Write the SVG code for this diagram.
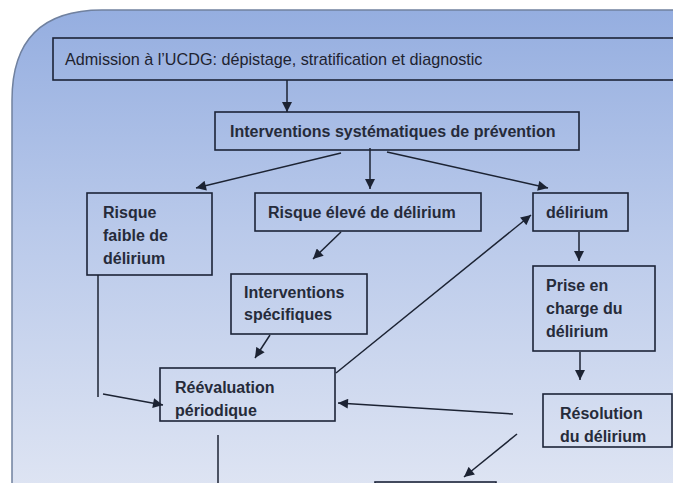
<svg xmlns="http://www.w3.org/2000/svg" width="673" height="483" viewBox="0 0 673 483">
<defs>
<linearGradient id="bg" x1="0" y1="0" x2="0" y2="1">
<stop offset="0" stop-color="#95aee0"/>
<stop offset="0.45" stop-color="#b9c9ea"/>
<stop offset="1" stop-color="#dfe5f3"/>
</linearGradient>
<marker id="ah" viewBox="0 0 10 10" refX="10" refY="5" markerWidth="11" markerHeight="10" markerUnits="userSpaceOnUse" orient="auto">
<path d="M0,0 L10,5 L0,10 z" fill="#1c2333"/>
</marker>
<style>
.box{fill:none;stroke:#1c2438;stroke-width:1.6}
.t{font-family:"Liberation Sans",Arial,sans-serif;font-size:16px;font-weight:bold;fill:#262b3a}
.ti{font-family:"Liberation Sans",Arial,sans-serif;font-size:16.2px;fill:#1e2330}
.c{fill:none;stroke:#1c2333;stroke-width:1.5}
.ca{fill:none;stroke:#1c2333;stroke-width:1.5;marker-end:url(#ah)}
</style>
</defs>
<rect width="673" height="483" fill="#ffffff"/>
<path d="M12,495 L12,100 Q12,10 102,10 L690,10 L690,495 z" fill="url(#bg)" stroke="#70819f" stroke-width="1.5"/>

<g id="admission">
<rect class="box" x="53" y="38" width="630" height="42"/>
<text class="ti" x="65" y="65">Admission à l’UCDG: dépistage, stratification et diagnostic</text>
</g>
<g id="prevention">
<rect class="box" x="215" y="112" width="364" height="38"/>
<text class="t" x="230" y="137">Interventions systématiques de prévention</text>
</g>
<g id="risque-faible">
<rect class="box" x="87" y="193" width="125" height="82"/>
<text class="t" x="103" y="218">Risque</text>
<text class="t" x="103" y="241">faible de</text>
<text class="t" x="103" y="264">délirium</text>
</g>
<g id="risque-eleve">
<rect class="box" x="255" y="193" width="226" height="38"/>
<text class="t" x="268" y="218">Risque élevé de délirium</text>
</g>
<g id="delirium">
<rect class="box" x="533" y="193" width="95" height="38"/>
<text class="t" x="546" y="218">délirium</text>
</g>
<g id="interventions-specifiques">
<rect class="box" x="231" y="274" width="136" height="60"/>
<text class="t" x="244" y="298">Interventions</text>
<text class="t" x="244" y="320">spécifiques</text>
</g>
<g id="prise-en-charge">
<rect class="box" x="533" y="266" width="122" height="85"/>
<text class="t" x="546" y="291">Prise en</text>
<text class="t" x="546" y="314">charge du</text>
<text class="t" x="546" y="337">délirium</text>
</g>
<g id="reevaluation">
<rect class="box" x="160" y="368" width="175" height="53"/>
<text class="t" x="175" y="393">Réévaluation</text>
<text class="t" x="175" y="416">périodique</text>
</g>
<g id="resolution">
<rect class="box" x="543" y="394" width="129" height="53"/>
<text class="t" x="560" y="419">Résolution</text>
<text class="t" x="560" y="442">du délirium</text>
</g>
<g id="bottom-box">
<rect class="box" x="375" y="482" width="121" height="30"/>
</g>

<g id="connectors">
<line class="ca" x1="287" y1="80" x2="287" y2="112"/>
<line class="ca" x1="341" y1="153" x2="196" y2="188"/>
<line class="ca" x1="370" y1="148" x2="370" y2="189"/>
<line class="ca" x1="387" y1="152" x2="548" y2="188"/>
<line class="ca" x1="341" y1="232" x2="313" y2="259"/>
<line class="ca" x1="579" y1="232" x2="579" y2="261"/>
<line class="ca" x1="270" y1="335" x2="255" y2="358"/>
<line class="ca" x1="580" y1="352" x2="580" y2="380"/>
<line class="c" x1="98" y1="275" x2="98" y2="397"/>
<line class="ca" x1="103" y1="394" x2="163" y2="405"/>
<line class="ca" x1="336" y1="373" x2="531" y2="215"/>
<line class="ca" x1="513" y1="414" x2="338" y2="403"/>
<line class="ca" x1="517" y1="434" x2="464" y2="477"/>
<line class="c" x1="218" y1="435" x2="218" y2="483"/>
</g>
</svg>
